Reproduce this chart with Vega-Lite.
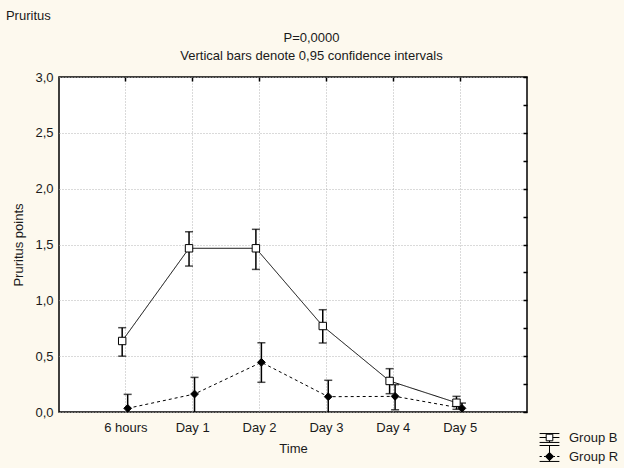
{
  "$schema": "https://vega.github.io/schema/vega-lite/v6.json",
  "width": 468,
  "height": 335,
  "padding": {"left": 5, "top": 10, "right": 5, "bottom": 5},
  "background": "#fdf9ee",
  "title": {"text": "Pruritus", "anchor": "start", "frame": "bounds", "dx": -7, "offset": 8, "font": "Liberation Sans", "fontSize": 13, "fontWeight": "normal", "color": "#1a1a1a"},
  "data": {"values": [
    {"time": "6 hours", "group": "Group B", "mean": 0.636, "lo": 0.5, "hi": 0.755},
    {"time": "Day 1", "group": "Group B", "mean": 1.466, "lo": 1.307, "hi": 1.614},
    {"time": "Day 2", "group": "Group B", "mean": 1.466, "lo": 1.277, "hi": 1.636},
    {"time": "Day 3", "group": "Group B", "mean": 0.77, "lo": 0.618, "hi": 0.916},
    {"time": "Day 4", "group": "Group B", "mean": 0.278, "lo": 0.164, "hi": 0.388},
    {"time": "Day 5", "group": "Group B", "mean": 0.083, "lo": 0.024, "hi": 0.14},
    {"time": "6 hours", "group": "Group R", "mean": 0.033, "lo": -0.09, "hi": 0.158},
    {"time": "Day 1", "group": "Group R", "mean": 0.161, "lo": -0.02, "hi": 0.31},
    {"time": "Day 2", "group": "Group R", "mean": 0.445, "lo": 0.266, "hi": 0.62},
    {"time": "Day 3", "group": "Group R", "mean": 0.137, "lo": -0.01, "hi": 0.284},
    {"time": "Day 4", "group": "Group R", "mean": 0.14, "lo": 0.02, "hi": 0.245},
    {"time": "Day 5", "group": "Group R", "mean": 0.033, "lo": -0.015, "hi": 0.08}
  ]},
  "config": {
    "font": "Liberation Sans",
    "view": {"stroke": "black", "strokeWidth": 1.5, "fill": "white"},
    "axis": {"labelFont": "Liberation Sans", "labelFontSize": 13, "titleFont": "Liberation Sans", "titleFontSize": 13, "titleFontWeight": "normal", "labelColor": "#1a1a1a", "titleColor": "#1a1a1a", "domain": false, "tickColor": "black"},
    "legend": {"labelFont": "Liberation Sans", "labelFontSize": 13, "labelColor": "#1a1a1a"}
  },
  "encoding": {
    "x": {"field": "time", "type": "nominal", "sort": null, "scale": {"domain": ["6 hours", "Day 1", "Day 2", "Day 3", "Day 4", "Day 5"], "paddingInner": 0, "paddingOuter": 0.5}},
    "xOffset": {"field": "group", "type": "nominal", "scale": {"type": "point", "range": [27, 38]}}
  },
  "layer": [
    {
      "mark": {"type": "line", "color": "black", "strokeWidth": 1},
      "encoding": {
        "x": {"field": "time", "type": "nominal", "sort": null, "axis": {"title": "Time", "ticks": false, "labelPadding": 9, "titlePadding": 8, "grid": true, "gridColor": "#b4b4b4", "gridDash": [1, 2], "labelAngle": 0, "bandPosition": 0.5}},
        "y": {"field": "mean", "type": "quantitative", "scale": {"domain": [0, 3]}, "axis": {"title": "Pruritus points", "values": [0, 0.5, 1, 1.5, 2, 2.5, 3], "labelExpr": "replace(format(datum.value, '.1f'), '.', ',')", "ticks": false, "labelPadding": 6, "grid": true, "gridColor": "#b4b4b4", "gridDash": [1, 2], "titlePadding": 9}},
        "strokeDash": {"field": "group", "type": "nominal", "scale": {"range": [[1, 0], [3, 3]]}, "legend": null}
      }
    },
    {
      "mark": {"type": "rule", "color": "black", "strokeWidth": 1.5, "clip": true},
      "encoding": {
        "x": {"field": "time", "type": "nominal", "sort": null, "axis": {"orient": "top", "title": ["P=0,0000", "Vertical bars denote 0,95 confidence intervals"], "titleLineHeight": 18, "titleX": 252, "titleAlign": "center", "labels": false, "ticks": true, "tickSize": -4, "tickWidth": 1.5, "grid": false, "titlePadding": 14, "bandPosition": 0.5}},
        "y": {"field": "lo", "type": "quantitative", "axis": {"orient": "right", "values": [0, 0.25, 0.5, 0.75, 1, 1.25, 1.5, 1.75, 2, 2.25, 2.5, 2.75, 3], "labels": false, "ticks": true, "tickSize": -4, "tickWidth": 1.5, "grid": false, "title": null}},
        "y2": {"field": "hi"}
      }
    },
    {
      "mark": {"type": "tick", "color": "black", "size": 8, "thickness": 1.5, "orient": "horizontal", "clip": true},
      "encoding": {
        "x": {"field": "time", "type": "nominal", "sort": null, "axis": null},
        "y": {"field": "lo", "type": "quantitative", "axis": null}
      }
    },
    {
      "mark": {"type": "tick", "color": "black", "size": 8, "thickness": 1.5, "orient": "horizontal", "clip": true},
      "encoding": {
        "x": {"field": "time", "type": "nominal", "sort": null, "axis": null},
        "y": {"field": "hi", "type": "quantitative", "axis": null}
      }
    },
    {
      "mark": {"type": "point", "stroke": "black", "strokeWidth": 1, "opacity": 1, "size": 0},
      "encoding": {
        "x": {"field": "time", "type": "nominal", "sort": null, "axis": null},
        "y": {"field": "mean", "type": "quantitative", "axis": null},
        "shape": {"field": "group", "type": "nominal", "scale": {"range": ["M-0.9,-0.36H0.9M-0.9,0.45H0.9M0,-0.36V-0.3M0,0.3V0.45M-0.9,0H-0.3M0.3,0H0.9M-0.3,-0.3H0.3V0.3H-0.3Z", "M-0.9,-1H0.9M-0.9,0.45H0.9M0,-1V0.45M-0.9,0H-0.7M-0.5,0H-0.35M0.35,0H0.5M0.7,0H0.9M0,-0.38L0.38,0L0,0.38L-0.38,0Z"]}, "legend": {"orient": "none", "legendX": 479, "legendY": 349, "title": null, "symbolSize": 484, "rowPadding": -10, "labelOffset": 8, "symbolStrokeWidth": 1, "symbolStrokeColor": "black", "symbolOpacity": 1, "encode": {"symbols": {"update": {"stroke": {"value": "black"}, "strokeWidth": {"value": 1}, "strokeOpacity": {"value": 1}}}}}},
        "fill": {"field": "group", "type": "nominal", "scale": {"range": ["white", "black"]}, "legend": {"orient": "none", "legendX": 479, "legendY": 349, "title": null, "symbolSize": 484, "rowPadding": -10, "labelOffset": 8, "symbolStrokeWidth": 1, "symbolStrokeColor": "black", "symbolOpacity": 1, "encode": {"symbols": {"update": {"stroke": {"value": "black"}, "strokeWidth": {"value": 1}, "strokeOpacity": {"value": 1}}}}}}
      }
    },
    {
      "transform": [{"filter": "datum.group == 'Group B'"}],
      "mark": {"type": "point", "shape": "square", "fill": "white", "stroke": "black", "strokeWidth": 1, "opacity": 1, "size": 55},
      "encoding": {
        "x": {"field": "time", "type": "nominal", "sort": null, "axis": null},
        "y": {"field": "mean", "type": "quantitative", "axis": null}
      }
    },
    {
      "transform": [{"filter": "datum.group == 'Group R'"}],
      "mark": {"type": "point", "shape": "diamond", "fill": "black", "stroke": "black", "strokeWidth": 1, "opacity": 1, "size": 60},
      "encoding": {
        "x": {"field": "time", "type": "nominal", "sort": null, "axis": null},
        "y": {"field": "mean", "type": "quantitative", "axis": null}
      }
    }
  ],
  "resolve": {"axis": {"x": "independent", "y": "independent"}}
}
